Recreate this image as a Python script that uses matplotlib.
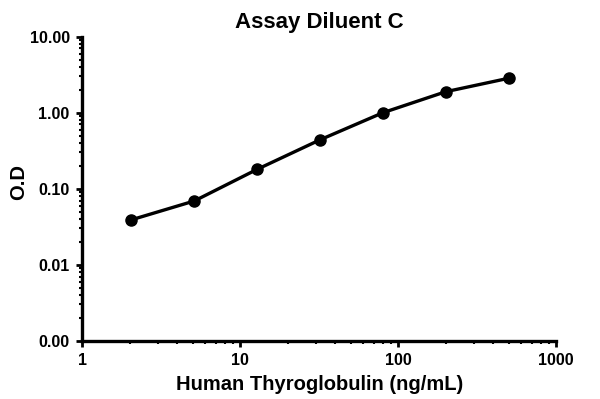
import matplotlib

matplotlib.use("Agg")

import matplotlib.pyplot as plt
from matplotlib.ticker import FixedLocator, LogLocator, NullFormatter

plt.rcParams["font.family"] = ["Liberation Sans", "DejaVu Sans"]
plt.rcParams["font.weight"] = "bold"

# standard curve (ng/mL vs O.D)
concentration = [2.048, 5.12, 12.8, 32, 80, 200, 500]
od = [0.039, 0.069, 0.18, 0.44, 1.0, 1.89, 2.84]

y_ticks = [0.001, 0.01, 0.1, 1, 10]
y_tick_labels = ["0.00", "0.01", "0.10", "1.00", "10.00"]
x_ticks = [1, 10, 100, 1000]
x_tick_labels = ["1", "10", "100", "1000"]

fig = plt.figure(figsize=(6.0, 3.99), dpi=100)
ax = fig.add_axes([0.137, 0.146, 0.79, 0.762])

ax.plot(concentration, od, color="black", linewidth=2.4,
        marker="o", markersize=8, clip_on=False)

ax.set_xscale("log")
ax.set_yscale("log")
ax.set_xlim(1, 1000)
ax.set_ylim(0.001, 10)

ax.xaxis.set_major_locator(FixedLocator(x_ticks))
ax.set_xticklabels(x_tick_labels)
ax.yaxis.set_major_locator(FixedLocator(y_ticks))
ax.set_yticklabels(y_tick_labels)
ax.xaxis.set_minor_locator(LogLocator(base=10, subs=range(2, 10)))
ax.yaxis.set_minor_locator(LogLocator(base=10, subs=range(2, 10)))
ax.xaxis.set_minor_formatter(NullFormatter())
ax.yaxis.set_minor_formatter(NullFormatter())

for side in ("top", "right"):
    ax.spines[side].set_visible(False)
for side in ("left", "bottom"):
    ax.spines[side].set_linewidth(2.4)

ax.tick_params(which="major", direction="out", length=4, width=2,
               labelsize=11.5, pad=5)
ax.tick_params(which="minor", direction="out", length=2.5, width=1.5)

ax.set_title("Assay Diluent C", fontsize=16, fontweight="bold", pad=6)
ax.set_xlabel("Human Thyroglobulin (ng/mL)", fontsize=14.5, fontweight="bold",
              labelpad=5)
ax.set_ylabel("O.D", fontsize=14.5, fontweight="bold")
ax.yaxis.set_label_coords(-0.114, 0.523)

fig.savefig("out.png", dpi=100)
